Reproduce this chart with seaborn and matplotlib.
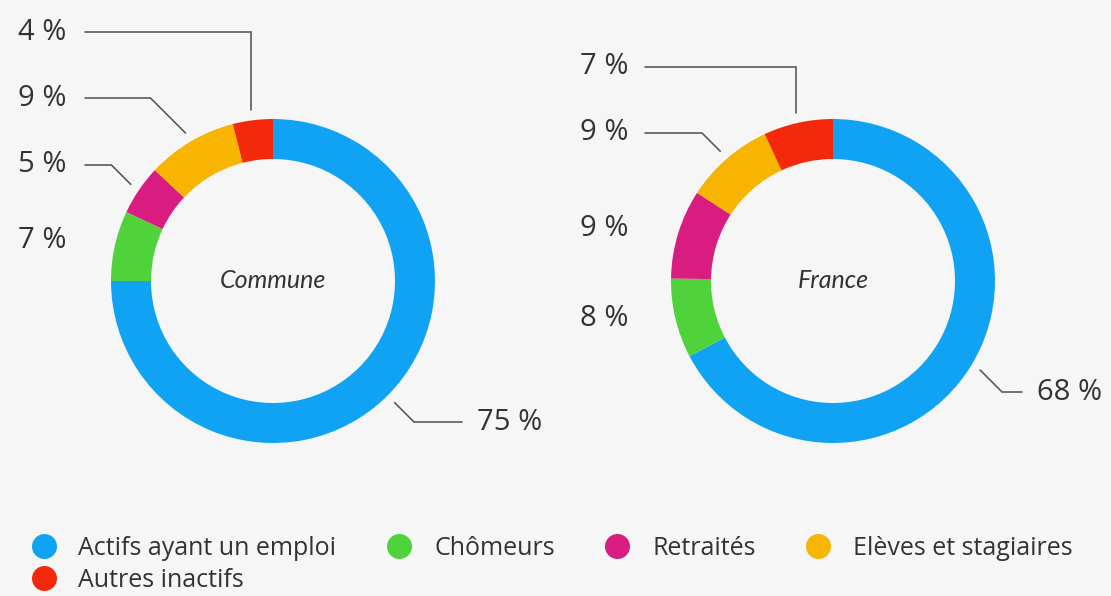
import matplotlib
matplotlib.use("Agg")
import matplotlib.pyplot as plt
from matplotlib.lines import Line2D
import numpy as np
import seaborn as sns

# Population aged 15-64 by activity type (%)
categories = ["Actifs ayant un emploi", "Chômeurs", "Retraités",
              "Elèves et stagiaires", "Autres inactifs"]
commune_values = [75, 7, 5, 9, 4]
france_values = [68, 8, 9, 9, 7]
panel_titles = ["Commune", "France"]

palette = sns.color_palette(["#11a3f3", "#4fd23a", "#d81c80", "#f7b400", "#f4290b"])

sns.set_theme(style="white")
plt.rcParams["font.family"] = ["Open Sans", "DejaVu Sans"]

BG = "#f6f6f6"
TXT = "#333333"
LINE = "#5a5a5a"
W, H = 1111, 596

fig = plt.figure(figsize=(W / 100, H / 100), dpi=100, facecolor=BG)
ax = fig.add_axes([0, 0, 1, 1])
ax.set_facecolor(BG)


def py(y):
    """Convert a top-down pixel row into the axes' upward y coordinate."""
    return H - y


RADIUS = 162
RING = 40

# Per-donut layout: centre, and for each category the label position and
# leader style ("v": vertical elbow, "d": diagonal elbow, None: no leader)
layouts = [
    {
        "center": (273, 281),
        "labels": [
            (477, 422, "d", 462),
            (18, 240, None, None),
            (18, 165, "d", 85),
            (18, 98, "d", 85),
            (18, 32, "v", 85),
        ],
    },
    {
        "center": (833, 281),
        "labels": [
            (1037, 392, "d", 1022),
            (580, 318, None, None),
            (580, 228, None, None),
            (580, 133, "d", 645),
            (580, 67, "v", 645),
        ],
    },
]

for values, title, lay in zip([commune_values, france_values], panel_titles, layouts):
    cx, cy = lay["center"]
    wedges, _ = ax.pie(values, colors=palette, startangle=90, counterclock=False,
                       radius=RADIUS, center=(cx, py(cy)),
                       wedgeprops=dict(width=RING, linewidth=0), frame=True)
    ax.text(cx, py(cy), title, ha="center", va="center", fontsize=18,
            style="italic", color=TXT, family=["Lato", "DejaVu Sans"])

    for w, v, (lx, ly, style, lend) in zip(wedges, values, lay["labels"]):
        ax.text(lx, py(ly), f"{v} %", ha="left", va="center", fontsize=21,
                color=TXT)
        if style is None:
            continue
        mid = np.deg2rad((w.theta1 + w.theta2) / 2)
        r = RADIUS + 10
        axp = cx + r * np.cos(mid)
        ayp = cy - r * np.sin(mid)
        if style == "v":
            xs = [axp, axp, lend]
            ys = [ayp, ly, ly]
        else:
            dy = abs(ly - ayp)
            ex = axp - dy if lend < axp else axp + dy
            xs = [axp, ex, lend]
            ys = [ayp, ly, ly]
        ax.plot(xs, [py(y) for y in ys], color=LINE, lw=1.2,
                solid_joinstyle="miter")

ax.set_xlim(0, W)
ax.set_ylim(0, H)
ax.set_aspect("equal")
ax.axis("off")

# Legend: filled row-wise (matplotlib fills column-wise, so reorder)
handles = [Line2D([], [], marker="o", ls="", markersize=18, markeredgewidth=0,
                  color=c) for c in palette]
order = [0, 4, 1, 2, 3]
fig.legend([handles[i] for i in order], [categories[i] for i in order],
           ncol=4, loc="upper left", bbox_to_anchor=(31 / W, 1 - 536 / H),
           frameon=False, fontsize=18, labelcolor=TXT, handlelength=1.0,
           handletextpad=0.9, columnspacing=2.0, labelspacing=0.28,
           borderpad=0, borderaxespad=0)

fig.savefig("out.png", dpi=100, facecolor=BG)
